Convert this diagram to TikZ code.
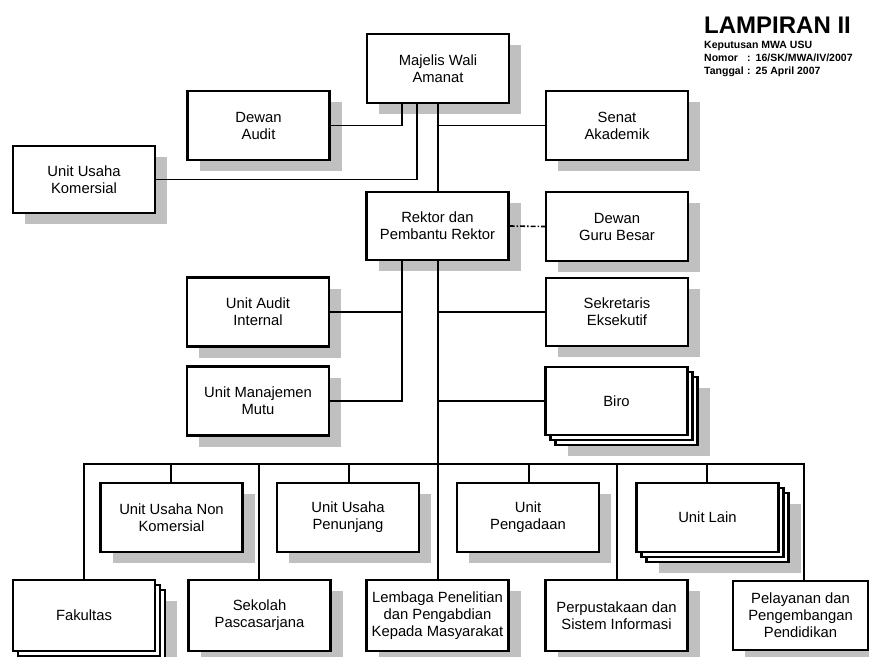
\documentclass[tikz,border=0pt]{standalone}
\usepackage{fontspec}
\setmainfont{Liberation Sans}
\definecolor{shadowgray}{HTML}{C0C0C0}
\newcommand\unitfont{\fontsize{14.8}{17}\selectfont}
\newcommand\singlebox[5][]{%
  \node[unit,#1,draw=none,fill=shadowgray] at (#3+12,#4+11) {};
  \node[unit,#1] (#2) at (#3,#4) {#5};}
\newcommand\stackbox[5][]{%
  \node[unit,#1,draw=none,fill=shadowgray] at (#3+22,#4+21) {};
  \node[unit,#1] at (#3+10,#4+10) {};
  \node[unit,#1] at (#3+5,#4+5) {};
  \node[unit,#1] (#2) at (#3,#4) {#5};}
\begin{document}
\begin{tikzpicture}[x=1pt,y=-1pt,
  unit/.style={draw=black, line width=2.4pt, fill=white, minimum width=142pt,
    minimum height=69pt, align=center, inner sep=0pt, font=\unitfont},
  link/.style={line width=1.4pt, line cap=rect},
  dashlink/.style={line width=1.6pt, dash pattern=on 5pt off 2pt on 1.5pt off 2pt},
  titlefont/.style={font=\fontsize{24}{28}\selectfont\bfseries, inner sep=0pt},
  subfont/.style={font=\fontsize{10.5}{13}\selectfont\bfseries, inner sep=0pt}]
\useasboundingbox (0,0) rectangle (869,656);

% title
\node[titlefont, anchor=base west] (title) at (704,33) {LAMPIRAN II};
\node[subfont, anchor=base west] (sub1) at (704,48) {Keputusan MWA USU};
\node[subfont, anchor=base west] (sub2) at (704,61) {\makebox[43pt][l]{Nomor}:\hspace{5pt}16/SK/MWA/IV/2007};
\node[subfont, anchor=base west] (sub3) at (704,74) {\makebox[43pt][l]{Tanggal}:\hspace{5pt}25 April 2007};

% boxes
\singlebox{maj}{438}{68.5}{Majelis Wali\\Amanat}
\singlebox{da}{258.5}{125.5}{Dewan\\Audit}
\singlebox{sen}{617}{125.5}{Senat\\Akademik}
\singlebox[minimum height=67pt]{uuk}{84}{179.5}{Unit Usaha\\Komersial}
\singlebox[minimum height=68pt]{rek}{437.5}{226}{Rektor dan\\Pembantu Rektor}
\singlebox{dgb}{617}{226.5}{Dewan\\Guru Besar}
\singlebox{uai}{258}{312}{Unit Audit\\Internal}
\singlebox{umm}{258}{401}{Unit Manajemen\\Mutu}
\singlebox[minimum height=68pt]{sek}{617}{312}{Sekretaris\\Eksekutif}
\stackbox[minimum height=68pt]{biro}{616.5}{401}{Biro}
\singlebox{uunk}{171.5}{517.5}{Unit Usaha Non\\Komersial}
\singlebox{uup}{348}{517.5}{Unit Usaha\\Penunjang}
\singlebox{upg}{528}{517.5}{Unit\\Pengadaan}
\stackbox{ul}{707.5}{517.5}{Unit Lain}
\stackbox[minimum height=71pt]{fak}{84}{615.5}{Fakultas}
\singlebox[minimum height=71pt]{sps}{259.5}{615.5}{Sekolah\\Pascasarjana}
\singlebox[minimum height=71pt]{lem}{437.5}{615.5}{Lembaga Penelitian\\dan Pengabdian\\Kepada Masyarakat}
\singlebox[minimum height=71pt]{per}{616.5}{615.5}{Perpustakaan dan\\Sistem Informasi}
\singlebox[minimum height=69pt, minimum width=135pt]{pel}{800.5}{615.5}{Pelayanan dan\\Pengembangan\\Pendidikan}

% helper coordinates
\coordinate (xA) at (402,0);
\coordinate (xB) at (417,0);
\coordinate (xT) at (438,0);
\coordinate (b1) at (84,464);
\coordinate (b2) at (171,464);
\coordinate (b3) at (259,464);
\coordinate (b4) at (349,464);
\coordinate (b5) at (438,464);
\coordinate (b6) at (529,464);
\coordinate (b7) at (617,464);
\coordinate (b8) at (707,464);
\coordinate (b9) at (804,464);

% connectors
\draw[link] (maj.south -| xA) |- (da.east);
\draw[link] (maj.south -| xB) |- (uuk.east);
\draw[link] (maj.south -| xT) -- (rek.north -| xT);
\draw[link] (sen.west) -- (sen.west -| xT);
\draw[dashlink] (rek.east) -- (dgb.west);
\draw[link] (rek.south -| xA) |- (umm.east);
\draw[link] (uai.east) -- (uai.east -| xA);
\draw[link] (rek.south -| xT) -- (b5);
\draw[link] (sek.west) -- (sek.west -| xT);
\draw[link] (biro.west) -- (biro.west -| xT);
\draw[link] (b1) -- (b9);
\draw[link] (b1) -- (fak.north -| b1);
\draw[link] (b2) -- (uunk.north -| b2);
\draw[link] (b3) -- (sps.north -| b3);
\draw[link] (b4) -- (uup.north -| b4);
\draw[link] (b5) -- (lem.north -| b5);
\draw[link] (b6) -- (upg.north -| b6);
\draw[link] (b7) -- (per.north -| b7);
\draw[link] (b8) -- (ul.north -| b8);
\draw[link] (b9) -- (pel.north -| b9);
\end{tikzpicture}
\end{document}
